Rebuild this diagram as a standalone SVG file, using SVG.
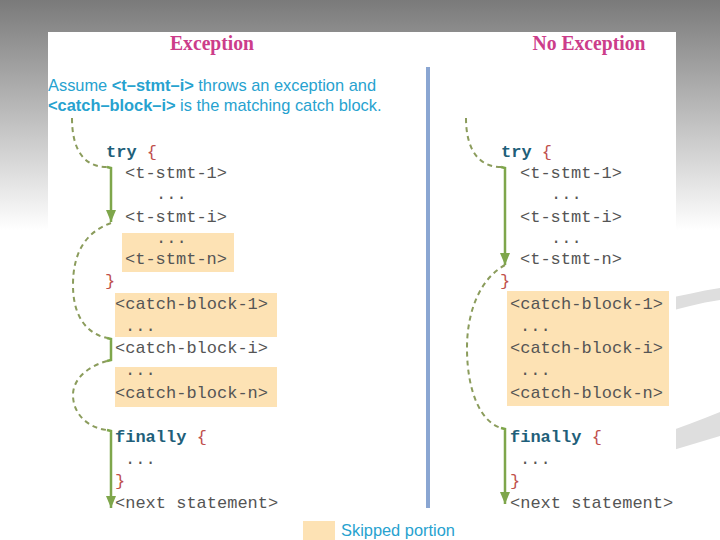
<svg xmlns="http://www.w3.org/2000/svg" width="720" height="540" viewBox="0 0 720 540">
<defs>
<linearGradient id="bg" x1="0" y1="0" x2="0" y2="1" gradientUnits="objectBoundingBox">
<stop offset="0" stop-color="#7a7a7a"/>
<stop offset="1" stop-color="#ffffff"/>
</linearGradient>
<marker id="ah" viewBox="0 0 12 10" refX="12" refY="5" markerWidth="12" markerHeight="10" markerUnits="userSpaceOnUse" orient="auto">
<path d="M0,0 L12,5 L0,10 Z" fill="#7ea64b"/>
</marker>
<style>
.title{font-family:"Liberation Serif",serif;font-weight:bold;font-size:21px;fill:#cc3d8a;text-anchor:middle}
.note{font-family:"Liberation Sans",Arial,sans-serif;font-size:16.4px;fill:#27a2cf}
.note .b{font-weight:bold}
.code{font-family:"Liberation Mono","Courier New",monospace;font-size:17px;fill:#555555}
.kw{font-weight:bold;fill:#1f5f7a}
.br{fill:#c0504d}
.skip{fill:#fde2b4}
.dash{fill:none;stroke:#8b9c5c;stroke-width:2;stroke-dasharray:5 4}
.solid{fill:none;stroke:#7ea64b;stroke-width:2.5}
</style>
</defs>
<!-- slide background -->
<rect x="0" y="0" width="720" height="540" fill="#ffffff"/>
<rect x="0" y="0" width="720" height="230" fill="url(#bg)"/>
<path d="M660,300 C680,296 700,291 720,288 L720,300 C700,303 680,308 660,314 Z" fill="#dedede"/>
<path d="M660,434 C680,428 700,420 720,412 L720,436 C700,442 680,448 660,454 Z" fill="#dedede"/>
<rect x="48" y="32" width="628" height="508" fill="#ffffff"/>

<g id="titles">
<text class="title" x="212" y="50" textLength="84" lengthAdjust="spacingAndGlyphs">Exception</text>
<text class="title" x="589" y="50" textLength="113" lengthAdjust="spacingAndGlyphs">No Exception</text>
</g>
<g id="note">
<text class="note" x="48" y="91">Assume <tspan class="b">&lt;t–stmt–i&gt;</tspan> throws an exception and</text>
<text class="note" x="48" y="111"><tspan class="b">&lt;catch–block–i&gt;</tspan> is the matching catch block.</text>
</g>
<rect id="divider" x="426" y="67" width="4" height="441" fill="#8aa6d2"/>

<g id="left-skipped">
<rect class="skip" x="122" y="233" width="112" height="39"/>
<rect class="skip" x="115" y="293" width="162" height="44"/>
<rect class="skip" x="115" y="367" width="162" height="40"/>
</g>
<g id="right-skipped">
<rect class="skip" x="507" y="291" width="162" height="115"/>
</g>

<g id="left-code" class="code">
<text x="106" y="157"><tspan class="kw">try</tspan> <tspan class="br">{</tspan></text>
<text x="125" y="178">&lt;t-stmt-1&gt;</text>
<text x="156" y="199">...</text>
<text x="125" y="222">&lt;t-stmt-i&gt;</text>
<text x="156" y="243">...</text>
<text x="125" y="264">&lt;t-stmt-n&gt;</text>
<text class="br" x="105" y="286">}</text>
<text x="115" y="309">&lt;catch-block-1&gt;</text>
<text x="125" y="331">...</text>
<text x="115" y="353">&lt;catch-block-i&gt;</text>
<text x="125" y="375">...</text>
<text x="115" y="398">&lt;catch-block-n&gt;</text>
<text x="115" y="442"><tspan class="kw">finally</tspan> <tspan class="br">{</tspan></text>
<text x="125" y="464">...</text>
<text class="br" x="115" y="486">}</text>
<text x="115" y="508">&lt;next statement&gt;</text>
</g>

<g id="right-code" class="code">
<text x="501" y="157"><tspan class="kw">try</tspan> <tspan class="br">{</tspan></text>
<text x="520" y="178">&lt;t-stmt-1&gt;</text>
<text x="551" y="199">...</text>
<text x="520" y="222">&lt;t-stmt-i&gt;</text>
<text x="551" y="243">...</text>
<text x="520" y="264">&lt;t-stmt-n&gt;</text>
<text class="br" x="500" y="286">}</text>
<text x="510" y="309">&lt;catch-block-1&gt;</text>
<text x="520" y="331">...</text>
<text x="510" y="353">&lt;catch-block-i&gt;</text>
<text x="520" y="375">...</text>
<text x="510" y="398">&lt;catch-block-n&gt;</text>
<text x="510" y="442"><tspan class="kw">finally</tspan> <tspan class="br">{</tspan></text>
<text x="520" y="464">...</text>
<text class="br" x="510" y="486">}</text>
<text x="510" y="508">&lt;next statement&gt;</text>
</g>

<g id="connectors">
<path class="dash" d="M72,118 C72,150 84,167 107,167"/>
<path class="solid" d="M107,167 L111,168 L111,222" marker-end="url(#ah)"/>
<path class="dash" d="M111,223 C86,232 73,252 73,285 C73,318 88,334 107,338"/>
<path class="solid" d="M107,338 L111,339 L111,360 L107,361"/>
<path class="dash" d="M107,361 C86,367 73,380 73,395 C73,414 88,428 107,430"/>
<path class="solid" d="M107,430 L111,431 L111,508" marker-end="url(#ah)"/>

<path class="dash" d="M466,118 C466,150 479,167 501,167"/>
<path class="solid" d="M501,167 L505,168 L505,265" marker-end="url(#ah)"/>
<path class="dash" d="M505,265 C481,278 467,310 467,348 C467,392 481,422 501,428"/>
<path class="solid" d="M501,428 L505,429 L505,504" marker-end="url(#ah)"/>
</g>

<g id="legend">
<rect class="skip" x="303" y="521" width="32" height="19"/>
<text class="note" x="341" y="536">Skipped portion</text>
</g>
</svg>
